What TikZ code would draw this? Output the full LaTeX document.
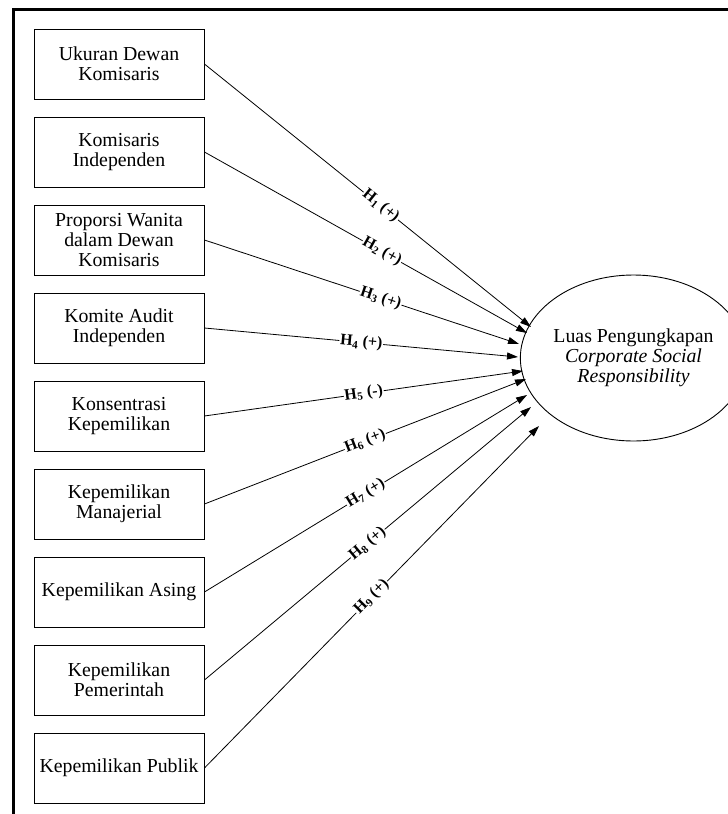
\documentclass[tikz,border=0pt]{standalone}
\usepackage{fontspec}
\setmainfont{Liberation Serif}
\usetikzlibrary{arrows.meta,shapes.geometric}
\begin{document}
\begin{tikzpicture}[x=1pt,y=-1pt,
  varbox/.style={draw=black,line width=0.9pt,minimum width=170pt,minimum height=70pt,
    align=center,inner sep=0pt,font=\fontsize{19.8}{20}\selectfont},
  depell/.style={draw=black,line width=0.9pt,ellipse,minimum width=189pt,minimum height=166pt,
    align=center,inner sep=0pt,font=\fontsize{19.8}{20}\selectfont},
  link/.style={line width=0.8pt,-{Triangle[length=11pt,width=7pt]}},
  hlab/.style={sloped,fill=white,inner sep=0.8pt,font=\fontsize{16}{16}\selectfont\bfseries}]
\useasboundingbox (0,0) rectangle (728,814);
% frame
\draw[line width=2.8pt] (13.5,814) -- (13.5,9.5) -- (728,9.5);
% boxes
\node[varbox] (b1) at (119,64) {Ukuran Dewan\\Komisaris};
\node[varbox] (b2) at (119,152) {Komisaris\\Independen};
\node[varbox] (b3) at (119,240) {Proporsi Wanita\\dalam Dewan\\Komisaris};
\node[varbox] (b4) at (119,328) {Komite Audit\\Independen};
\node[varbox] (b5) at (119,416) {Konsentrasi\\Kepemilikan};
\node[varbox] (b6) at (119,504) {Kepemilikan\\Manajerial};
\node[varbox] (b7) at (119,592) {Kepemilikan Asing};
\node[varbox] (b8) at (119,680) {Kepemilikan\\Pemerintah};
\node[varbox] (b9) at (119,768) {Kepemilikan Publik};
% dependent
\node[depell] (y) at (633.5,358) {Luas Pengungkapan\\\textit{Corporate Social}\\\textit{Responsibility}};
% arrow tips
\coordinate (t1) at (531,327);
\coordinate (t2) at (527,333);
\coordinate (t3) at (519,344);
\coordinate (t4) at (518,357);
\coordinate (t5) at (523,371);
\coordinate (t6) at (526,379);
\coordinate (t7) at (527,395);
\coordinate (t8) at (531,407);
\coordinate (t9) at (539,426);
% connectors
\draw[link] (b1.east) -- node[hlab,pos=0.54] {H\textsubscript{1} (+)} (t1);
\draw[link] (b2.east) -- node[hlab,pos=0.55] {H\textsubscript{2} (+)} (t2);
\draw[link] (b3.east) -- node[hlab,pos=0.56] {H\textsubscript{3} (+)} (t3);
\draw[link] (b4.east) -- node[hlab,pos=0.50] {H\textsubscript{4} (+)} (t4);
\draw[link] (b5.east) -- node[hlab,pos=0.50] {H\textsubscript{5} (-)} (t5);
\draw[link] (b6.east) -- node[hlab,pos=0.50] {H\textsubscript{6} (+)} (t6);
\draw[link] (b7.east) -- node[hlab,pos=0.50] {H\textsubscript{7} (+)} (t7);
\draw[link] (b8.east) -- node[hlab,pos=0.50] {H\textsubscript{8} (+)} (t8);
\draw[link] (b9.east) -- node[hlab,pos=0.50] {H\textsubscript{9} (+)} (t9);
\end{tikzpicture}
\end{document}
